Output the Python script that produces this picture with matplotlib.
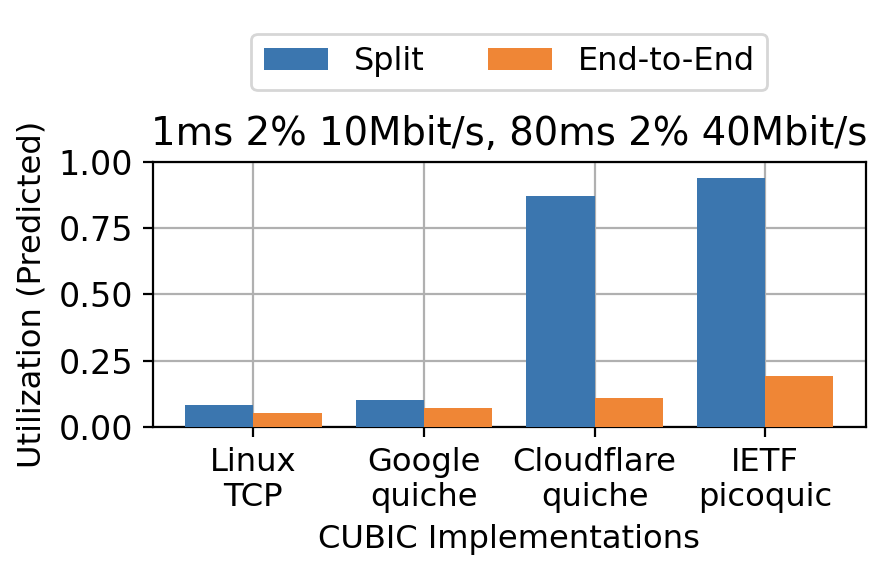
import numpy as np
import matplotlib.pyplot as plt

# Werte
implementierungen = ["Linux\nTCP", "Google\nquiche", "Cloudflare\nquiche", "IETF\npicoquic"]
split = [0.084, 0.103, 0.872, 0.940]
end_to_end = [0.054, 0.073, 0.110, 0.193]

plt.rcParams["font.size"] = 11.6

fig, ax = plt.subplots(figsize=(4.44, 2.89), dpi=200)
fig.subplots_adjust(left=0.172, right=0.975, top=0.72, bottom=0.261)

x = np.arange(len(implementierungen))
breite = 0.4
ax.bar(x - breite / 2, split, breite, color="#3b76af", label="Split", zorder=3)
ax.bar(x + breite / 2, end_to_end, breite, color="#ef8636", label="End-to-End", zorder=3)

ax.set_xticks(x)
ax.set_xticklabels(implementierungen)
ax.set_ylim(0, 1.0)
ax.set_yticks([0, 0.25, 0.5, 0.75, 1.0])
ax.set_yticklabels(["0.00", "0.25", "0.50", "0.75", "1.00"])
ax.tick_params(axis="y", labelsize=12)
ax.grid(True, color="#b0b0b0", linewidth=0.8, zorder=0)
ax.set_axisbelow(True)

ax.set_xlabel("CUBIC Implementations")
ax.set_ylabel("Utilization (Predicted)")
ax.set_title("1ms 2% 10Mbit/s, 80ms 2% 40Mbit/s", fontsize=13.9)

ax.legend(loc="lower center", bbox_to_anchor=(0.5, 1.21), ncol=2, frameon=True, fontsize=11.5)

plt.savefig("out.png")
